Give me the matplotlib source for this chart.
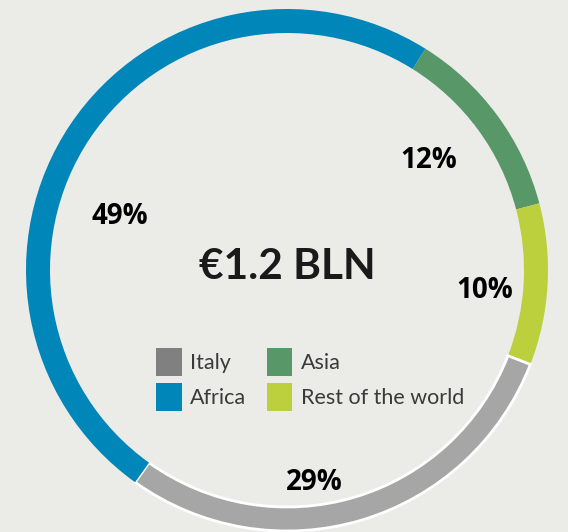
import matplotlib.pyplot as plt
from matplotlib.patches import Patch

# ring data, drawn clockwise starting from Asia
regions = ['Asia', 'Rest of the world', 'Italy', 'Africa']
shares = [12, 10, 29, 49]
ring_colors = ['#589868', '#bcd03e', '#a6a6a6', '#0086b8']

# legend, filled column by column
legend_labels = ['Italy', 'Africa', 'Asia', 'Rest of the world']
legend_colors = ['#808080', '#0086b8', '#589868', '#bcd03e']

# percent labels (pixel positions, y measured from bottom)
pct_text = ['12%', '10%', '29%', '49%']
pct_pos = [(429, 372), (485, 242), (314, 50), (120, 315)]

W, H = 568, 532
BG = '#ebebe8'

fig = plt.figure(figsize=(W / 100, H / 100), dpi=100, facecolor=BG)
ax = fig.add_axes([0, 0, 1, 1])
ax.set_facecolor(BG)

wedges, _ = ax.pie(shares, colors=ring_colors, startangle=58, counterclock=False,
                   center=(287, 262), radius=261,
                   wedgeprops=dict(width=24, linewidth=0))
# Italy wedge has a white outline
wedges[2].set_edgecolor('white')
wedges[2].set_linewidth(2)

ax.set_xlim(0, W)
ax.set_ylim(0, H)
ax.set_aspect('equal')
ax.axis('off')

for txt, (x, y) in zip(pct_text, pct_pos):
    ax.text(x, y, txt, ha='center', va='center', fontsize=20,
            fontweight='bold', family='Open Sans', color='black')

ax.text(287, 265, '€1.2 BLN', ha='center', va='center', fontsize=30.5,
        fontweight='bold', family='Lato', color='#1a1a1a')

handles = [Patch(facecolor=c, edgecolor='none') for c in legend_colors]
fs = 15.5
leg = ax.legend(handles, legend_labels, ncol=2, loc='upper left',
                bbox_to_anchor=(156 / W, 1 - 348 / H), frameon=False,
                borderpad=0, borderaxespad=0, handlelength=1.2,
                handleheight=1.65, handletextpad=0.38, columnspacing=0.95,
                labelspacing=0.3, prop={'family': 'Lato', 'size': fs})
for t in leg.get_texts():
    t.set_color('#3a3a3a')

plt.savefig('out.png', dpi=100, facecolor=BG)
